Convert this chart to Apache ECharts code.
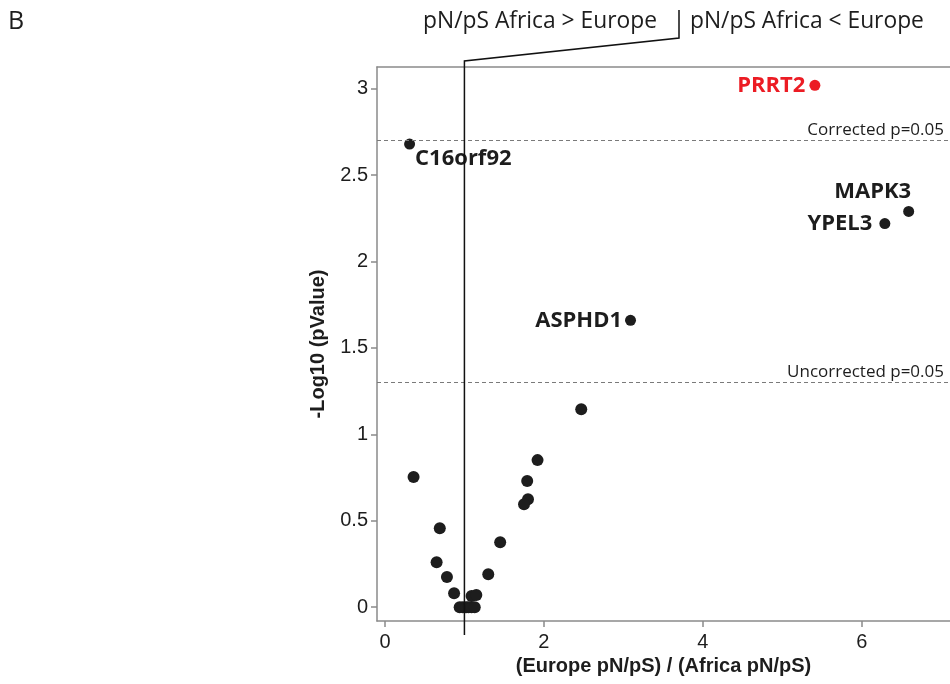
<!DOCTYPE html>
<html><head><meta charset="utf-8">
<script src="https://cdn.jsdelivr.net/npm/echarts@6/dist/echarts.min.js"></script>
<style>html,body{margin:0;padding:0;background:#fff}#c{width:950px;height:684px}</style>
</head><body><div id="c"></div>
<script>
// ---- data ----
const geneNames = ['PRRT2', 'C16orf92', 'MAPK3', 'YPEL3', 'ASPHD1'];
const geneX = [5.41, 0.31, 6.59, 6.29, 3.09];
const geneY = [3.02, 2.68, 2.29, 2.22, 1.66];
const otherX = [2.47, 0.36, 1.92, 1.79, 1.80, 1.75, 0.69, 1.45, 0.65, 0.78, 1.30, 0.87, 1.09, 1.15, 0.94, 0.98, 1.02, 1.05, 1.09, 1.13];
const otherY = [1.146, 0.753, 0.851, 0.730, 0.625, 0.596, 0.457, 0.376, 0.260, 0.174, 0.190, 0.081, 0.064, 0.070, 0, 0, 0, 0, 0, 0];
const xTicks = [0, 2, 4, 6];
const yTicks = [0, 0.5, 1, 1.5, 2, 2.5, 3];
const yTickLabels = ['0', '0.5', '1', '1.5', '2', '2.5', '3'];
const thresholdValues = [2.70, 1.301];
const thresholdLabels = ['Corrected p=0.05', 'Uncorrected p=0.05'];
const highlightGene = 'PRRT2';
const neutralRatio = 1;
const headerLeft = 'pN/pS Africa > Europe';
const headerRight = 'pN/pS Africa < Europe';
const panelLetter = 'B';
const xTitle = '(Europe pN/pS) / (Africa pN/pS)';
const yTitle = '-Log10 (pValue)';

// ---- styles ----
const labelPlacement = {
  'PRRT2':    { position: 'left',  distance: 4, offset: [0, 0] },
  'C16orf92': { position: 'right', distance: 0, offset: [0, 15] },
  'MAPK3':    { position: 'left',  distance: 0, offset: [8, -20] },
  'YPEL3':    { position: 'left',  distance: 7, offset: [0, 0] },
  'ASPHD1':   { position: 'left',  distance: 3, offset: [0, 0] }
};
const INK = '#1d1d1d';
const RED = '#ec1c24';
const AX = '#8a8a8a';
const SANS = '"Liberation Sans", Arial, sans-serif';
const MYR = '"Open Sans", "Noto Sans", sans-serif';

const chart = echarts.init(document.getElementById('c'), null, { renderer: 'canvas' });

const geneData = geneNames.map((n, i) => {
  const p = labelPlacement[n];
  const hot = n === highlightGene;
  return {
    name: n,
    value: [geneX[i], geneY[i]],
    itemStyle: { color: hot ? RED : INK, opacity: 1 },
    label: {
      show: true, formatter: n, position: p.position, distance: p.distance, offset: p.offset,
      color: hot ? RED : INK, fontFamily: MYR, fontWeight: 'bold', fontSize: 22
    }
  };
});
const otherData = otherX.map((x, i) => [x, otherY[i]]);

const markLines = thresholdValues.map((v, i) => ({
  yAxis: v,
  label: { formatter: thresholdLabels[i] }
}));

chart.setOption({
  animation: false,
  backgroundColor: '#fff',
  grid: { left: 377, right: 0, top: 67, bottom: 63 },
  xAxis: [{
    type: 'value', min: -0.1, max: 7.11,
    splitLine: { show: false },
    axisLine: { show: true, onZero: false, lineStyle: { color: AX, width: 1.5 } },
    axisTick: { show: true, length: 6, customValues: xTicks, lineStyle: { color: AX, width: 1.5 } },
    axisLabel: { customValues: xTicks, margin: 11, color: INK, fontFamily: SANS, fontSize: 20 },
    name: xTitle, nameLocation: 'middle', nameGap: 35,
    nameTextStyle: { color: INK, fontFamily: SANS, fontSize: 20, fontWeight: 'bold' }
  }, {
    type: 'value', position: 'top', min: -0.1, max: 7.11,
    splitLine: { show: false },
    axisLine: { show: true, onZero: false, lineStyle: { color: AX, width: 1.5 } },
    axisTick: { show: false }, axisLabel: { show: false }
  }],
  yAxis: {
    type: 'value', min: -0.08, max: 3.126,
    splitLine: { show: false },
    axisLine: { show: true, onZero: false, lineStyle: { color: AX, width: 1.5 } },
    axisTick: { show: true, length: 6, customValues: yTicks, lineStyle: { color: AX, width: 1.5 } },
    axisLabel: {
      customValues: yTicks, margin: 9, color: INK, fontFamily: SANS, fontSize: 20,
      formatter: v => { const k = yTicks.indexOf(v); return k >= 0 ? yTickLabels[k] : ''; }
    },
    name: yTitle, nameLocation: 'middle', nameGap: 49,
    nameTextStyle: { color: INK, fontFamily: SANS, fontSize: 20, fontWeight: 'bold' }
  },
  series: [{
    type: 'scatter', name: 'other', symbolSize: 12, itemStyle: { color: INK, opacity: 1 },
    data: otherData,
    markLine: {
      silent: true, symbol: 'none',
      lineStyle: { type: [4, 3], color: '#7a7a7a', width: 1 },
      label: { position: 'insideEndTop', distance: [6, 2], color: INK, fontFamily: MYR, fontSize: 17 },
      data: markLines
    }
  }, {
    type: 'scatter', name: 'genes', symbolSize: 11,
    data: geneData
  }]
});

// decorations positioned from the axes
function drawDecor() {
  const base = chart.convertToPixel({ gridIndex: 0 }, [neutralRatio, 0]);
  const px = base[0];
  const gridTop = 67, gridBottom = 684 - 63;
  const sepX = 679;
  chart.setOption({
    graphic: [
      { type: 'polyline', z: 100, silent: true,
        shape: { points: [[px, gridBottom + 14], [px, gridTop - 6], [sepX, 38], [sepX, 10]] },
        style: { stroke: '#111', lineWidth: 1.5, fill: null } },
      { type: 'text', z: 100, x: sepX - 22, y: 22,
        style: { text: headerLeft, align: 'right', verticalAlign: 'middle', fill: INK, font: '22.8px ' + MYR } },
      { type: 'text', z: 100, x: sepX + 11, y: 22,
        style: { text: headerRight, align: 'left', verticalAlign: 'middle', fill: INK, font: '22.8px ' + MYR } },
      { type: 'text', z: 100, x: 8, y: 22,
        style: { text: panelLetter, align: 'left', verticalAlign: 'middle', fill: INK, font: '25px ' + MYR } }
    ]
  });
}
drawDecor();
</script>
</body></html>
